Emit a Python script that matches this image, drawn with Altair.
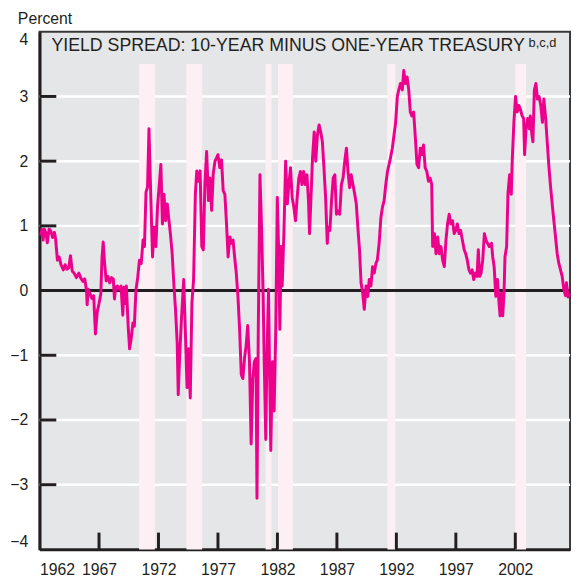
import altair as alt
import pandas as pd

# ---- data ----
years = [
    1962.10, 1962.20, 1962.30, 1962.40, 1962.55, 1962.65, 1962.80, 1962.95, 1963.10, 1963.25,
    1963.35, 1963.50, 1963.65, 1963.80, 1964.00, 1964.15, 1964.30, 1964.45, 1964.60, 1964.75,
    1964.90, 1965.10, 1965.30, 1965.45, 1965.65, 1965.80, 1965.95, 1966.00, 1966.10, 1966.25,
    1966.40, 1966.55, 1966.70, 1966.85, 1967.00, 1967.15, 1967.25, 1967.35, 1967.45, 1967.60,
    1967.75, 1967.90, 1968.05, 1968.20, 1968.30, 1968.40, 1968.55, 1968.70, 1968.85, 1969.00,
    1969.10, 1969.20, 1969.30, 1969.45, 1969.57, 1969.70, 1969.85, 1969.97, 1970.10, 1970.25,
    1970.40, 1970.55, 1970.70, 1970.82, 1970.95, 1971.08, 1971.20, 1971.33, 1971.50, 1971.63,
    1971.78, 1971.92, 1972.05, 1972.20, 1972.33, 1972.46, 1972.60, 1972.74, 1972.88, 1973.00,
    1973.15, 1973.30, 1973.43, 1973.57, 1973.66, 1973.77, 1973.93, 1974.12, 1974.26, 1974.40,
    1974.53, 1974.67, 1974.81, 1974.95, 1975.10, 1975.22, 1975.36, 1975.50, 1975.64, 1975.77,
    1975.90, 1976.05, 1976.20, 1976.33, 1976.47, 1976.60, 1976.75, 1976.88, 1977.00, 1977.15,
    1977.30, 1977.44, 1977.58, 1977.72, 1977.85, 1978.00, 1978.13, 1978.27, 1978.40, 1978.54,
    1978.68, 1978.82, 1978.96, 1979.09, 1979.23, 1979.37, 1979.50, 1979.65, 1979.79, 1979.93,
    1980.06, 1980.20, 1980.28, 1980.39, 1980.53, 1980.67, 1980.80, 1980.89, 1981.02, 1981.11,
    1981.25, 1981.33, 1981.44, 1981.58, 1981.72, 1981.86, 1981.99, 1982.13, 1982.20, 1982.32,
    1982.40, 1982.55, 1982.69, 1982.83, 1982.96, 1983.10, 1983.24, 1983.38, 1983.52, 1983.66,
    1983.80, 1983.93, 1984.06, 1984.20, 1984.34, 1984.48, 1984.61, 1984.70, 1984.81, 1984.95,
    1985.09, 1985.22, 1985.36, 1985.50, 1985.64, 1985.78, 1985.91, 1986.05, 1986.19, 1986.27,
    1986.41, 1986.55, 1986.69, 1986.83, 1986.96, 1987.10, 1987.24, 1987.38, 1987.52, 1987.66,
    1987.80, 1987.93, 1988.07, 1988.20, 1988.35, 1988.50, 1988.63, 1988.76, 1988.90, 1989.03,
    1989.17, 1989.30, 1989.45, 1989.60, 1989.72, 1989.86, 1990.00, 1990.14, 1990.28, 1990.40,
    1990.55, 1990.70, 1990.83, 1990.97, 1991.11, 1991.25, 1991.45, 1991.66, 1991.80, 1991.94,
    1992.08, 1992.20, 1992.35, 1992.50, 1992.62, 1992.76, 1992.90, 1993.04, 1993.17, 1993.30,
    1993.45, 1993.60, 1993.73, 1993.87, 1994.01, 1994.15, 1994.28, 1994.42, 1994.56, 1994.70,
    1994.83, 1994.97, 1995.05, 1995.20, 1995.33, 1995.47, 1995.61, 1995.75, 1995.89, 1996.03,
    1996.17, 1996.30, 1996.44, 1996.58, 1996.72, 1996.86, 1996.99, 1997.13, 1997.27, 1997.40,
    1997.55, 1997.70, 1997.83, 1997.96, 1998.10, 1998.23, 1998.37, 1998.50, 1998.64, 1998.78,
    1998.89, 1999.00, 1999.12, 1999.26, 1999.40, 1999.53, 1999.67, 1999.81, 2000.00, 2000.10,
    2000.22, 2000.36, 2000.50, 2000.63, 2000.72, 2000.83, 2000.94, 2001.05, 2001.13, 2001.27,
    2001.38, 2001.52, 2001.66, 2001.74, 2001.88, 2002.02, 2002.16, 2002.30, 2002.43, 2002.57,
    2002.70, 2002.78, 2002.90, 2003.04, 2003.18, 2003.26, 2003.40, 2003.48, 2003.60, 2003.73,
    2003.86, 2004.00, 2004.14, 2004.28, 2004.40, 2004.55, 2004.70, 2004.83, 2004.97, 2005.10,
    2005.24, 2005.38, 2005.52, 2005.66, 2005.80, 2005.94, 2006.08, 2006.22, 2006.30, 2006.44,
    2006.57,
]
spread = [
    0.85, 0.95, 0.78, 0.95, 0.88, 0.74, 0.95, 0.92, 0.82, 0.90,
    0.80, 0.47, 0.52, 0.40, 0.32, 0.40, 0.33, 0.35, 0.54, 0.30,
    0.27, 0.20, 0.27, 0.20, 0.14, 0.18, 0.00, -0.22, 0.02, -0.05,
    -0.12, -0.08, -0.67, -0.33, -0.20, -0.05, 0.50, 0.75, 0.47, 0.15,
    0.22, 0.12, 0.20, 0.18, -0.13, 0.05, 0.07, 0.02, 0.07, -0.38,
    0.05, -0.20, 0.07, -0.55, -0.90, -0.75, -0.50, -0.55, 0.00, 0.20,
    0.47, 0.42, 0.78, 0.68, 1.52, 1.60, 2.50, 1.60, 0.52, 0.98,
    0.68, 1.30, 1.60, 1.95, 1.03, 1.49, 1.08, 1.34, 1.08, 0.88,
    0.57, 0.07, -0.29, -0.80, -1.61, -1.05, -0.44, 0.17, -0.64, -1.50,
    -0.90, -1.66, -0.19, 0.17, 1.49, 1.85, 1.69, 1.85, 0.68, 0.63,
    1.64, 2.15, 1.39, 1.74, 1.24, 1.80, 2.00, 2.05, 2.10, 1.90,
    2.02, 1.54, 1.49, 1.03, 0.52, 0.83, 0.73, 0.78, 0.52, 0.27,
    -0.09, -0.60, -1.30, -1.36, -1.05, -0.85, -0.54, -1.10, -2.37, -1.36,
    -1.10, -1.05, -3.21, -0.60, 1.79, 0.93, -0.09, -1.10, -2.30, -1.10,
    0.02, -1.10, -2.47, -1.10, -1.86, -0.60, 1.44, 0.42, -0.60, 0.68,
    0.07, 0.93, 2.00, 1.34, 1.64, 1.90, 1.44, 1.29, 1.08, 1.44,
    1.74, 1.84, 1.64, 1.84, 1.64, 1.79, 1.39, 0.88, 1.39, 2.05,
    2.45, 2.00, 2.40, 2.56, 2.45, 2.30, 1.90, 1.44, 0.73, 0.98,
    0.93, 1.39, 1.74, 1.79, 1.18, 1.23, 1.18, 1.64, 1.74, 2.00,
    2.20, 1.84, 1.59, 1.79, 1.64, 1.49, 1.34, 0.98, 0.63, 0.12,
    -0.04, -0.29, 0.07, -0.09, 0.17, 0.07, 0.37, 0.27, 0.42, 0.47,
    0.73, 1.13, 1.29, 1.39, 1.64, 1.84, 2.00, 2.20, 2.40, 2.60,
    3.00, 3.10, 3.20, 3.10, 3.40, 3.20, 3.30, 3.10, 2.76, 2.70,
    2.76, 2.35, 1.95, 1.90, 2.20, 2.10, 2.25, 1.90, 1.84, 1.69,
    1.74, 1.64, 0.68, 0.88, 0.57, 0.83, 0.57, 0.68, 0.47, 0.37,
    0.78, 1.03, 1.18, 1.03, 1.08, 0.88, 0.93, 1.03, 0.88, 0.93,
    0.78, 0.63, 0.57, 0.47, 0.32, 0.27, 0.32, 0.17, 0.27, 0.22,
    0.63, 0.22, 0.27, 0.47, 0.88, 0.78, 0.73, 0.68, 0.73, 0.52,
    0.37, -0.09, 0.17, -0.19, -0.39, -0.04, -0.39, -0.04, 0.52, 0.68,
    1.49, 1.79, 1.49, 2.00, 2.60, 3.00, 2.76, 2.86, 2.80, 2.70,
    2.66, 2.10, 2.50, 2.66, 2.50, 2.70, 2.40, 2.30, 3.10, 3.20,
    2.96, 3.00, 2.86, 2.60, 2.96, 2.66, 2.25, 1.90, 1.59, 1.34,
    1.08, 0.83, 0.57, 0.42, 0.32, 0.22, 0.02, -0.08, 0.12, -0.10,
    -0.05,
]
band_start = [1970.37, 1974.35, 1981.00, 1982.05, 1991.25, 2002.00]
band_end = [1971.70, 1975.67, 1981.50, 1983.30, 1991.90, 2002.90]
x_ticks = [1962, 1967, 1972, 1977, 1982, 1987, 1992, 1997, 2002]
y_ticks = [-4, -3, -2, -1, 0, 1, 2, 3, 4]
grid_vals = [-3, -2, -1, 1, 2, 3]
inner_y_ticks = [-3, -2, -1, 1, 2, 3]
inner_x_ticks = [1967, 1972, 1977, 1982, 1987, 1992, 1997, 2002]
title_text = "YIELD SPREAD: 10-YEAR MINUS ONE-YEAR TREASURY"
title_sup = "b,c,d"
y_label = "Percent"

W, H = 538, 525
MAGENTA = "#ec008c"
DARK = "#231f20"
SANS = "Liberation Sans, Arial, sans-serif"

xscale = alt.Scale(domain=[1962, 2006.6], nice=False, zero=False)
yscale = alt.Scale(domain=[-4, 4], nice=False, zero=False)

xaxis = alt.Axis(values=x_ticks, format="d", title=None, grid=False, ticks=False, tickSize=0,
                 domainColor=DARK, domainWidth=3, labelFont=SANS, labelFontSize=16,
                 labelColor=DARK, labelPadding=12, labelOverlap=False)
yaxis = alt.Axis(values=y_ticks, format="d", title=None, grid=False, ticks=False, tickSize=0,
                 domainColor=DARK, domainWidth=3, labelFont=SANS, labelFontSize=16,
                 labelColor=DARK, labelPadding=12, labelFlush=True, labelOverlap=False)

line_df = pd.DataFrame({"year": years, "spread": spread})
band_df = pd.DataFrame({"start": band_start, "end": band_end})
grid_df = pd.DataFrame({"v": grid_vals})
ytick_df = pd.DataFrame({"v": inner_y_ticks})
xtick_df = pd.DataFrame({"yr": inner_x_ticks})

grid = alt.Chart(grid_df).mark_rule(color="white", strokeWidth=2.5).encode(
    y=alt.Y("v:Q", scale=yscale, axis=yaxis)
)

bands = alt.Chart(band_df).mark_rect(color="#fdf0f5").encode(
    x=alt.X("start:Q", scale=xscale, axis=xaxis),
    x2="end:Q",
    y=alt.datum(3.5, scale=yscale),
    y2=alt.datum(-4),
)

zero = alt.Chart(pd.DataFrame({"v": [0]})).mark_rule(color=DARK, strokeWidth=3).encode(
    y=alt.Y("v:Q", scale=yscale, axis=yaxis)
)

line = alt.Chart(line_df).mark_line(color=MAGENTA, strokeWidth=3, strokeJoin="round").encode(
    x=alt.X("year:Q", scale=xscale, axis=xaxis),
    y=alt.Y("spread:Q", scale=yscale, axis=yaxis),
)

yt = alt.Chart(ytick_df).mark_rule(color=DARK, strokeWidth=3).encode(
    y=alt.Y("v:Q", scale=yscale, axis=yaxis),
    x=alt.value(0),
    x2=alt.value(17),
)

xt = alt.Chart(xtick_df).mark_rule(color=DARK, strokeWidth=3).encode(
    x=alt.X("yr:Q", scale=xscale, axis=xaxis),
    y=alt.value(H - 17),
    y2=alt.value(H),
)

title_main = alt.Chart(pd.DataFrame({"t": [title_text]})).mark_text(
    align="left", baseline="alphabetic", font=SANS, fontSize=18, color=DARK
).encode(text="t:N", x=alt.value(12), y=alt.value(20))

title_s = alt.Chart(pd.DataFrame({"t": [title_sup]})).mark_text(
    align="left", baseline="alphabetic", font=SANS, fontSize=13, color=DARK
).encode(text="t:N", x=alt.value(496), y=alt.value(15))

percent = alt.Chart(pd.DataFrame({"t": [y_label]})).mark_text(
    align="left", baseline="alphabetic", font=SANS, fontSize=16, color=DARK
).encode(text="t:N", x=alt.value(-22), y=alt.value(-8))

chart = alt.layer(grid, bands, zero, line, yt, xt, title_main, title_s, percent).properties(
    width=W, height=H,
    background="white",
    autosize=alt.AutoSizeParams(type="none"),
    padding={"left": 32, "top": 20, "right": 2, "bottom": 30},
).configure_view(
    fill="#e5e6e8", stroke="#3a3a3a", strokeWidth=2
)

chart.save("out.html", embed_options={"renderer": "svg", "actions": False})
